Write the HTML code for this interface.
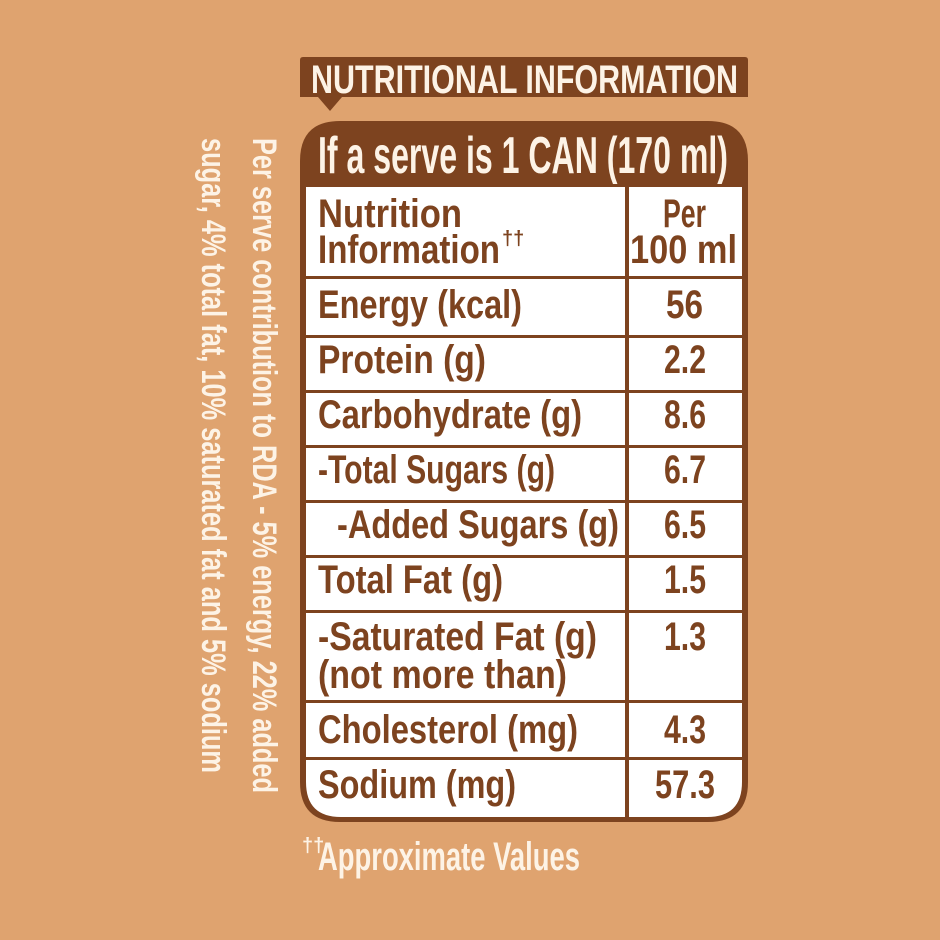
<!DOCTYPE html>
<html><head><meta charset="utf-8"><style>
html,body{margin:0;padding:0;background:#dfa36f;}
svg{display:block;}
text{font-family:"Liberation Sans",sans-serif;font-weight:bold;}
</style></head><body>
<svg width="940" height="940" viewBox="0 0 940 940">
<rect x="0" y="0" width="940" height="940" fill="#dfa36f"/>
<g>
<path d="M300 60 Q300 57 303 57 L745 57 Q748 57 748 60 L748 97 L342 97 L330 111 L318 97 L300 97 Z" fill="#7d431f"/>
<text x="311" y="93" font-size="40" fill="#fdf3e6" textLength="427" lengthAdjust="spacingAndGlyphs">NUTRITIONAL INFORMATION</text>
</g>
<g>
<path d="M340 121 L708 121 Q748 121 748 161 L748 782 Q748 822 708 822 L340 822 Q300 822 300 782 L300 161 Q300 121 340 121 Z" fill="#7d431f"/>
<path d="M306 187 L742 187 L742 782 Q742 817 707 817 L341 817 Q306 817 306 782 Z" fill="#ffffff"/>
<text x="318" y="173" font-size="52" fill="#fdf3e6" font-weight="normal" textLength="410" lengthAdjust="spacingAndGlyphs">If a serve is 1 CAN (170 ml)</text>
<rect x="625" y="187" width="4" height="632" fill="#7d431f"/>
<g fill="#7d431f">
<rect x="306" y="276" width="436" height="3"/>
<rect x="306" y="335" width="436" height="3"/>
<rect x="306" y="390" width="436" height="3"/>
<rect x="306" y="445" width="436" height="3"/>
<rect x="306" y="500" width="436" height="3"/>
<rect x="306" y="555" width="436" height="3"/>
<rect x="306" y="610" width="436" height="3"/>
<rect x="306" y="700" width="436" height="3"/>
<rect x="306" y="757" width="436" height="3"/>
</g>
<g fill="#7d431f" font-size="40">
<text x="318" y="227" textLength="144" lengthAdjust="spacingAndGlyphs">Nutrition</text>
<text x="318" y="263" textLength="182" lengthAdjust="spacingAndGlyphs">Information</text>
<text x="502" y="245" font-size="20">††</text>
<text x="663" y="227" textLength="43" lengthAdjust="spacingAndGlyphs">Per</text>
<text x="630" y="263" textLength="107" lengthAdjust="spacingAndGlyphs">100 ml</text>

<text x="318" y="318" textLength="204" lengthAdjust="spacingAndGlyphs">Energy (kcal)</text>
<text x="666" y="318" textLength="37" lengthAdjust="spacingAndGlyphs">56</text>
<text x="318" y="373" textLength="168" lengthAdjust="spacingAndGlyphs">Protein (g)</text>
<text x="664" y="373" textLength="42" lengthAdjust="spacingAndGlyphs">2.2</text>
<text x="318" y="428" textLength="264" lengthAdjust="spacingAndGlyphs">Carbohydrate (g)</text>
<text x="664" y="428" textLength="42" lengthAdjust="spacingAndGlyphs">8.6</text>
<text x="318" y="483" textLength="237" lengthAdjust="spacingAndGlyphs">-Total Sugars (g)</text>
<text x="664" y="483" textLength="42" lengthAdjust="spacingAndGlyphs">6.7</text>
<text x="337" y="538" textLength="282" lengthAdjust="spacingAndGlyphs">-Added Sugars (g)</text>
<text x="664" y="538" textLength="42" lengthAdjust="spacingAndGlyphs">6.5</text>
<text x="318" y="593" textLength="185" lengthAdjust="spacingAndGlyphs">Total Fat (g)</text>
<text x="664" y="593" textLength="42" lengthAdjust="spacingAndGlyphs">1.5</text>
<text x="318" y="650" textLength="279" lengthAdjust="spacingAndGlyphs">-Saturated Fat (g)</text>
<text x="318" y="688" textLength="249" lengthAdjust="spacingAndGlyphs">(not more than)</text>
<text x="664" y="650" textLength="42" lengthAdjust="spacingAndGlyphs">1.3</text>
<text x="318" y="743" textLength="260" lengthAdjust="spacingAndGlyphs">Cholesterol (mg)</text>
<text x="664" y="743" textLength="42" lengthAdjust="spacingAndGlyphs">4.3</text>
<text x="318" y="798" textLength="198" lengthAdjust="spacingAndGlyphs">Sodium (mg)</text>
<text x="655" y="798" textLength="60" lengthAdjust="spacingAndGlyphs">57.3</text>
</g>
</g>
<g fill="#fdf3e6">
<text x="302" y="852" font-size="20">††</text>
<text x="318" y="870" font-size="40" font-weight="normal" textLength="262" lengthAdjust="spacingAndGlyphs">Approximate Values</text>
</g>
<g fill="#fdf3e6" font-size="34" font-weight="normal">
<text transform="translate(253,138) rotate(90)" textLength="655" lengthAdjust="spacingAndGlyphs">Per serve contribution to RDA - 5% energy, 22% added</text>
<text transform="translate(202,138) rotate(90)" textLength="635" lengthAdjust="spacingAndGlyphs">sugar, 4% total fat, 10% saturated fat and 5% sodium</text>
</g>
</svg>
</body></html>
